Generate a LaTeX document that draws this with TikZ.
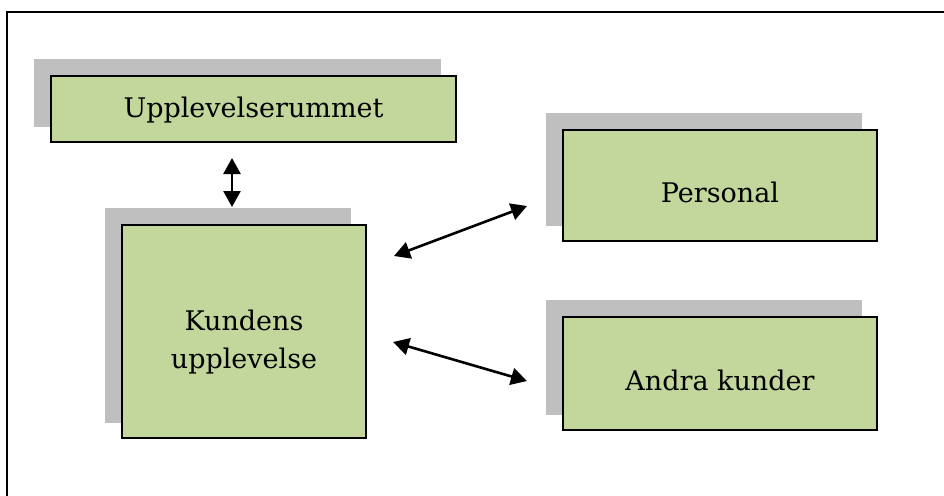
\documentclass[tikz,border=0pt]{standalone}
\usepackage{fontspec}
\setmainfont{DejaVu Serif}
\usetikzlibrary{arrows.meta,backgrounds}

\definecolor{boxgreen}{HTML}{C3D69B}
\definecolor{shadowgray}{HTML}{BFBFBF}

\tikzset{
  greenbox/.style={draw=black, line width=2pt, fill=boxgreen, inner sep=0pt},
  boxtext/.style={font=\fontsize{27}{38}\selectfont, align=center, text=black},
  link/.style={line width=2.6pt, {Triangle[length=16pt,width=17pt]}-{Triangle[length=16pt,width=17pt]}},
  frameline/.style={line width=2.8pt, black}
}

\begin{document}
\begin{tikzpicture}[x=1pt, y=-1pt]
  \useasboundingbox (0,0) rectangle (944,495);

  % open frame: left and top edges
  \coordinate (fbl) at (7,497);
  \coordinate (ftl) at (7,12);
  \coordinate (ftr) at (946,12);
  \draw[frameline] (fbl) -- (ftl) -- (ftr);

  % boxes
  \node[greenbox, minimum width=405pt, minimum height=66pt] (upp) at (253.5,109) {};
  \node[greenbox, minimum width=244pt, minimum height=213pt] (kund) at (244,331.5) {};
  \node[greenbox, minimum width=314pt, minimum height=111pt] (pers) at (720,185.5) {};
  \node[greenbox, minimum width=314pt, minimum height=113pt] (andra) at (720,373.5) {};

  % offset grey shadows behind the boxes
  \begin{scope}[on background layer]
    \foreach \b in {upp,kund,pers,andra}{
      \fill[shadowgray] ([shift={(-16,-16)}]\b.south west) rectangle ([shift={(-16,-16)}]\b.north east);
    }
  \end{scope}

  % labels
  \node[boxtext] (tupp) at (253.5,110) {Upplevelserummet};
  \node[boxtext] (tkund) at (244,342) {Kundens\\upplevelse};
  \node[boxtext] (tpers) at (720,192) {Personal};
  \node[boxtext] (tandra) at (720,380) {Andra kunder};

  % arrow end points
  \coordinate (a1) at (232,158);
  \coordinate (a2) at (232,207);
  \coordinate (b1) at (394,256);
  \coordinate (b2) at (527,206);
  \coordinate (c1) at (393,342);
  \coordinate (c2) at (527,381);

  \draw[link] (a1) -- (a2);
  \draw[link] (b1) -- (b2);
  \draw[link] (c1) -- (c2);
\end{tikzpicture}
\end{document}
